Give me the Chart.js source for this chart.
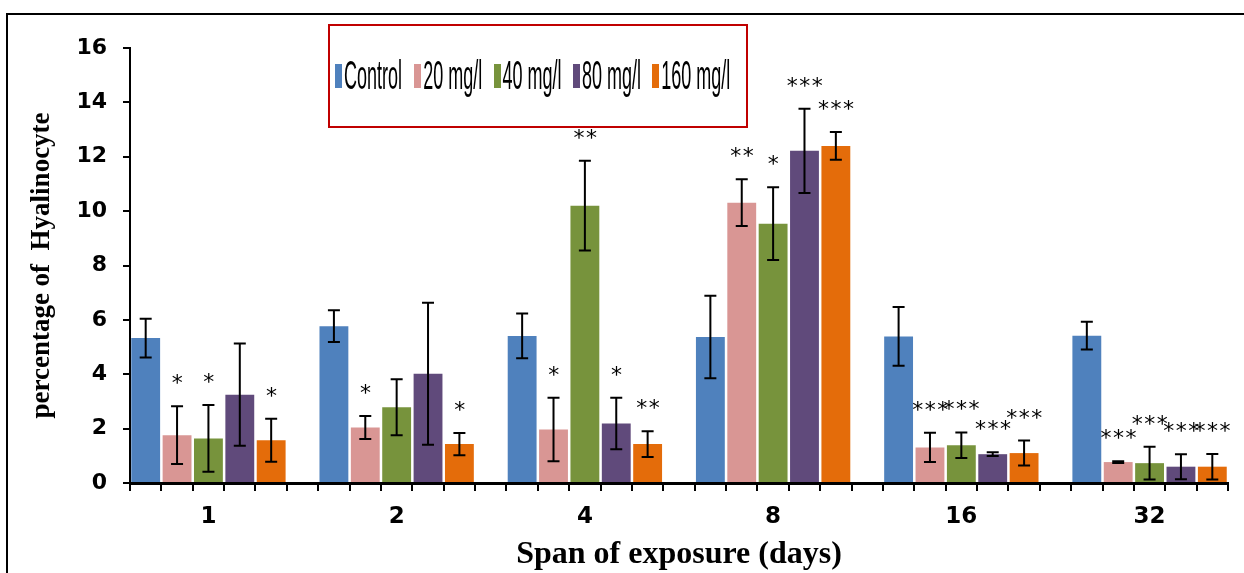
<!DOCTYPE html>
<html>
<head>
<meta charset="utf-8">
<title>percentage of Hyalinocyte</title>
<script src="https://cdn.jsdelivr.net/npm/chart.js@4.4.1/dist/chart.umd.min.js"></script>
<style>
  html, body { margin: 0; padding: 0; background: #fff; }
  #wrap { position: relative; width: 1244px; height: 573px; overflow: hidden; }
  #frame { position: absolute; left: 6px; top: 13px; width: 1240px; height: 562px;
           border-top: 2px solid #000; border-left: 2px solid #000; }
  #grafico { position: absolute; left: 0; top: 0; }
  #legenda { position: absolute; left: 328px; top: 24px; width: 420px; height: 104px;
             box-sizing: border-box; border: 2px solid #c00000;
             display: flex; align-items: center; padding-left: 5px; }
  #legenda .voce { width: 79.3px; flex: none; display: flex; align-items: center; }
  #legenda .box { width: 7px; height: 24px; flex: none; }
  #legenda .txt { margin-left: 2px; font-family: "Liberation Sans Narrow", "Arial Narrow", sans-serif;
                  font-size: 18px; color: #000; white-space: nowrap; display: inline-block;
                  transform: scaleY(2.3); transform-origin: left center; }
</style>
</head>
<body>
<div id="wrap">
  <div id="frame"></div>
  <canvas id="grafico" width="1244" height="573"></canvas>
  <div id="legenda"></div>
</div>
<script>
// Days of exposure (categories)
const giorni = ['1', '2', '4', '8', '16', '32'];
const serie = ['Control', '20 mg/l', '40 mg/l', '80 mg/l', '160 mg/l'];
const colori = ['#4f81bd', '#d99694', '#77933c', '#604a7b', '#e46c0a'];

// Mean values per series
const control = [5.33, 5.77, 5.41, 5.37, 5.39, 5.42];
const mg20 = [1.76, 2.04, 1.97, 10.31, 1.31, 0.77];
const mg40 = [1.64, 2.79, 10.20, 9.54, 1.39, 0.73];
const mg80 = [3.25, 4.02, 2.19, 12.22, 1.06, 0.60];
const mg160 = [1.57, 1.43, 1.43, 12.40, 1.10, 0.60];

// Error bars (+/-)
const errControl = [0.71, 0.58, 0.82, 1.52, 1.08, 0.51];
const err20 = [1.06, 0.42, 1.17, 0.86, 0.54, 0.03];
const err40 = [1.23, 1.03, 1.65, 1.34, 0.47, 0.60];
const err80 = [1.88, 2.61, 0.95, 1.55, 0.07, 0.46];
const err160 = [0.79, 0.41, 0.47, 0.51, 0.46, 0.47];

// Significance marks
const sigControl = ['', '', '', '', '', ''];
const sig20 = ['*', '*', '*', '**', '***', '***'];
const sig40 = ['*', '', '**', '*', '***', '***'];
const sig80 = ['', '', '*', '***', '***', '***'];
const sig160 = ['*', '*', '**', '***', '***', '***'];

// Y axis ticks
const yMin = 0, yMax = 16, yStep = 2;

const valori = [control, mg20, mg40, mg80, mg160];
const errori = [errControl, err20, err40, err80, err160];
const stelle = [sigControl, sig20, sig40, sig80, sig160];

// each category holds 5 bars + 1 empty slot
const slot = 1 / 6;
const xMin = -2.5 * slot;
const xMax = giorni.length - 1 + 2.5 * slot;

const datasets = serie.map((nome, d) => ({
  label: nome,
  xAxisID: 'xl',
  data: valori[d].map((v, i) => ({ x: i, y: v })),
  backgroundColor: colori[d],
  borderWidth: 0,
  errori: errori[d],
  stelle: stelle[d],
  categoryPercentage: 5 / 6,
  barPercentage: 0.92
}));

// Error bars and asterisks drawn over the bars
const erroriPlugin = {
  id: 'errori',
  afterDatasetsDraw(chart) {
    const ctx = chart.ctx;
    const y = chart.scales.y;
    chart.data.datasets.forEach((ds, d) => {
      chart.getDatasetMeta(d).data.forEach((bar, i) => {
        const v = ds.data[i].y, e = ds.errori[i];
        const top = y.getPixelForValue(v + e);
        const bot = y.getPixelForValue(v - e);
        ctx.save();
        ctx.strokeStyle = '#000';
        ctx.lineWidth = 2;
        ctx.beginPath();
        ctx.moveTo(bar.x, top); ctx.lineTo(bar.x, bot);
        ctx.moveTo(bar.x - 6, top); ctx.lineTo(bar.x + 6, top);
        ctx.moveTo(bar.x - 6, bot); ctx.lineTo(bar.x + 6, bot);
        ctx.stroke();
        if (ds.stelle[i]) {
          ctx.fillStyle = '#000';
          ctx.font = '22px "DejaVu Sans"';
          ctx.letterSpacing = '1.5px';
          ctx.textAlign = 'center';
          ctx.textBaseline = 'alphabetic';
          ctx.fillText(ds.stelle[i], bar.x + 1, top - 16);
        }
        ctx.restore();
      });
    });
  }
};

// Legend as html box with red border
const legendaPlugin = {
  id: 'legendaHtml',
  afterUpdate(chart) {
    const box = document.getElementById('legenda');
    box.innerHTML = '';
    chart.options.plugins.legend.labels.generateLabels(chart).forEach(item => {
      const voce = document.createElement('div');
      voce.className = 'voce';
      const q = document.createElement('span');
      q.className = 'box';
      q.style.background = item.fillStyle;
      const t = document.createElement('span');
      t.className = 'txt';
      t.textContent = item.text;
      voce.appendChild(q);
      voce.appendChild(t);
      box.appendChild(voce);
    });
  }
};

// keep both bottom axes on the same fixed range
const fissaRange = s => { s.min = xMin; s.max = xMax; };

new Chart(document.getElementById('grafico'), {
  type: 'bar',
  data: { datasets: datasets },
  plugins: [erroriPlugin, legendaPlugin],
  options: {
    responsive: false,
    animation: false,
    layout: { padding: { top: 48, right: 16, left: 0, bottom: 0 } },
    plugins: {
      legend: { display: false },
      tooltip: { enabled: false }
    },
    scales: {
      // tick marks at every bar edge
      x: {
        type: 'linear',
        position: 'bottom',
        weight: 0,
        offset: false,
        bounds: 'data',
        min: xMin,
        max: xMax,
        afterDataLimits: fissaRange,
        afterBuildTicks: s => {
          fissaRange(s);
          const t = [];
          for (let k = 0; k <= giorni.length * 6 - 1; k++) t.push({ value: xMin + k * slot });
          s.ticks = t;
        },
        afterFit: s => { s.height = 8; },
        ticks: { display: false },
        grid: { display: true, offset: false, drawOnChartArea: false, drawTicks: true, tickLength: 8, color: '#000', lineWidth: 2 },
        border: { display: true, color: '#000', width: 3 }
      },
      // day labels under each group
      xl: {
        type: 'linear',
        position: 'bottom',
        weight: 1,
        offset: false,
        bounds: 'data',
        min: xMin,
        max: xMax,
        afterDataLimits: fissaRange,
        afterBuildTicks: s => {
          fissaRange(s);
          s.ticks = giorni.map((g, i) => ({ value: i }));
        },
        afterFit: s => { s.height = 82; },
        ticks: {
          autoSkip: false,
          maxRotation: 0,
          padding: 12,
          color: '#000',
          font: { family: 'DejaVu Sans', size: 23, weight: 'bold' },
          callback: v => giorni[Math.round(v)]
        },
        grid: { display: false, offset: false, drawTicks: false },
        border: { display: false },
        title: {
          display: true,
          text: 'Span of exposure (days)',
          color: '#000',
          font: { family: 'Liberation Serif', size: 32, weight: 'bold', lineHeight: 1.125 },
          padding: 0
        }
      },
      y: {
        min: yMin,
        max: yMax,
        afterFit: s => { s.width = 130; },
        ticks: {
          stepSize: yStep,
          padding: 16,
          color: '#000',
          font: { family: 'DejaVu Sans', size: 22, weight: 'bold' }
        },
        grid: { display: true, drawOnChartArea: false, drawTicks: true, tickLength: 7, color: '#000', lineWidth: 2 },
        border: { display: true, color: '#000', width: 2 },
        title: {
          display: true,
          text: 'percentage of  Hyalinocyte',
          color: '#000',
          font: { family: 'Liberation Serif', size: 27, weight: 'bold' },
          padding: { top: 26, bottom: 0 }
        }
      }
    }
  }
});
</script>
</body>
</html>
